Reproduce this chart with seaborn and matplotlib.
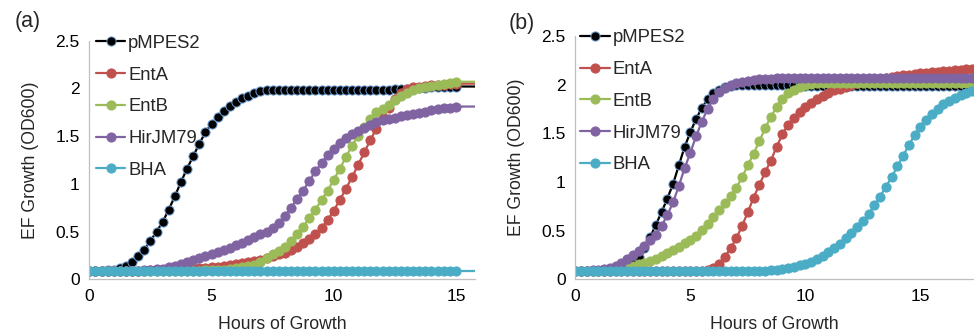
import numpy as np
import pandas as pd
import matplotlib
matplotlib.use("Agg")
import matplotlib.pyplot as plt
import seaborn as sns

# ---------------- data ----------------
series_names = ["pMPES2", "EntA", "EntB", "HirJM79", "BHA"]
series_colors = ["#000000", "#C0504D", "#9BBB59", "#8064A2", "#4BACC6"]

# Panel (a): readings every 0.25 h from 0 to 16 h (markers shown to 15 h)
a_pMPES2 = [0.09, 0.09, 0.09, 0.095,
            0.10, 0.115, 0.14, 0.185,
            0.24, 0.31, 0.40, 0.50,
            0.60, 0.73, 0.87, 1.02,
            1.16, 1.29, 1.42, 1.54,
            1.63, 1.70, 1.76, 1.82,
            1.86, 1.90, 1.92, 1.95,
            1.97, 1.98, 1.98, 1.98,
            1.98, 1.98, 1.98, 1.98,
            1.98, 1.98, 1.98, 1.98,
            1.98, 1.98, 1.98, 1.98,
            1.98, 1.98, 1.98, 1.98,
            1.98, 1.98, 1.99, 1.99,
            1.99, 2.00, 2.00, 2.00,
            2.01, 2.01, 2.01, 2.02,
            2.02, 2.02, 2.02, 2.02,
            2.02]
a_EntA = [0.09, 0.09, 0.09, 0.09,
          0.09, 0.09, 0.09, 0.09,
          0.09, 0.09, 0.095, 0.095,
          0.10, 0.10, 0.10, 0.105,
          0.105, 0.11, 0.115, 0.12,
          0.125, 0.13, 0.14, 0.15,
          0.16, 0.17, 0.18, 0.19,
          0.20, 0.22, 0.24, 0.26,
          0.28, 0.31, 0.34, 0.38,
          0.42, 0.47, 0.54, 0.62,
          0.72, 0.83, 0.95, 1.07,
          1.20, 1.33, 1.46, 1.58,
          1.70, 1.80, 1.89, 1.95,
          1.99, 2.01, 2.02, 2.03,
          2.04, 2.04, 2.04, 2.05,
          2.05, 2.05, 2.05, 2.05,
          2.05]
a_EntB = [0.09, 0.09, 0.09, 0.09,
          0.09, 0.09, 0.09, 0.09,
          0.09, 0.09, 0.09, 0.09,
          0.09, 0.09, 0.09, 0.09,
          0.09, 0.09, 0.09, 0.095,
          0.095, 0.10, 0.10, 0.11,
          0.115, 0.125, 0.135, 0.15,
          0.18, 0.22, 0.26, 0.30,
          0.34, 0.40, 0.47, 0.55,
          0.64, 0.73, 0.83, 0.93,
          1.04, 1.16, 1.28, 1.40,
          1.50, 1.60, 1.68, 1.75,
          1.78, 1.83, 1.88, 1.92,
          1.95, 1.98, 2.00, 2.02,
          2.03, 2.04, 2.05, 2.06,
          2.07, 2.07, 2.07, 2.07,
          2.07]
a_HirJM79 = [0.09, 0.09, 0.09, 0.09,
             0.09, 0.09, 0.09, 0.09,
             0.09, 0.095, 0.10, 0.105,
             0.11, 0.125, 0.14, 0.16,
             0.18, 0.20, 0.22, 0.24,
             0.26, 0.29, 0.31, 0.33,
             0.36, 0.38, 0.41, 0.44,
             0.47, 0.50, 0.54, 0.59,
             0.66, 0.75, 0.84, 0.93,
             1.03, 1.13, 1.22, 1.30,
             1.37, 1.43, 1.48, 1.52,
             1.55, 1.59, 1.62, 1.645,
             1.665, 1.68, 1.695, 1.71,
             1.72, 1.73, 1.74, 1.75,
             1.77, 1.78, 1.79, 1.80,
             1.81, 1.81, 1.81, 1.81,
             1.81]
a_BHA = [0.09, 0.09, 0.09, 0.09,
         0.09, 0.09, 0.09, 0.09,
         0.09, 0.09, 0.09, 0.09,
         0.09, 0.09, 0.09, 0.09,
         0.09, 0.09, 0.09, 0.09,
         0.09, 0.09, 0.09, 0.09,
         0.09, 0.09, 0.09, 0.09,
         0.09, 0.09, 0.09, 0.09,
         0.09, 0.09, 0.09, 0.09,
         0.09, 0.09, 0.09, 0.09,
         0.09, 0.09, 0.09, 0.09,
         0.09, 0.09, 0.09, 0.09,
         0.09, 0.09, 0.09, 0.09,
         0.09, 0.09, 0.09, 0.09,
         0.09, 0.09, 0.09, 0.09,
         0.09, 0.09, 0.09, 0.09,
         0.09]

# Panel (b): readings every 0.25 h from 0 to 17.5 h
b_pMPES2 = [0.09, 0.09, 0.09, 0.09,
            0.09, 0.09, 0.09, 0.095,
            0.10, 0.12, 0.16, 0.23,
            0.32, 0.43, 0.56, 0.69,
            0.83, 0.98, 1.17, 1.36,
            1.51, 1.65, 1.76, 1.85,
            1.91, 1.95, 1.98, 1.99,
            2.00, 2.00, 2.00, 2.00,
            2.00, 2.00, 2.00, 2.00,
            2.00, 2.00, 2.00, 2.00,
            1.99, 1.99, 1.99, 1.99,
            1.99, 1.99, 1.99, 1.99,
            1.99, 1.99, 1.99, 1.99,
            1.99, 1.99, 1.99, 1.99,
            1.99, 1.99, 1.99, 1.99,
            1.99, 1.99, 1.99, 1.99,
            1.99, 1.99, 1.99, 1.99,
            1.99, 1.99, 1.99]
b_EntA = [0.09, 0.09, 0.09, 0.09,
          0.09, 0.09, 0.09, 0.09,
          0.09, 0.09, 0.09, 0.09,
          0.09, 0.09, 0.09, 0.09,
          0.09, 0.09, 0.09, 0.09,
          0.09, 0.09, 0.09, 0.10,
          0.12, 0.16, 0.23, 0.32,
          0.42, 0.55, 0.69, 0.84,
          0.97, 1.10, 1.22, 1.36,
          1.49, 1.59, 1.66, 1.72,
          1.77, 1.81, 1.85, 1.88,
          1.91, 1.94, 1.96, 1.98,
          2.00, 2.02, 2.03, 2.04,
          2.05, 2.06, 2.07, 2.08,
          2.09, 2.10, 2.10, 2.11,
          2.12, 2.12, 2.13, 2.13,
          2.14, 2.14, 2.15, 2.15,
          2.16, 2.16, 2.16]
b_EntB = [0.09, 0.09, 0.09, 0.09,
          0.09, 0.095, 0.10, 0.11,
          0.12, 0.13, 0.14, 0.155,
          0.17, 0.19, 0.21, 0.24,
          0.27, 0.30, 0.33, 0.37,
          0.40, 0.45, 0.51, 0.57,
          0.64, 0.71, 0.78, 0.86,
          0.94, 1.05, 1.17, 1.29,
          1.42, 1.55, 1.67, 1.77,
          1.85, 1.91, 1.95, 1.98,
          2.00, 2.01, 2.02, 2.02,
          2.02, 2.02, 2.02, 2.02,
          2.02, 2.02, 2.02, 2.02,
          2.02, 2.02, 2.02, 2.02,
          2.02, 2.02, 2.02, 2.02,
          2.02, 2.02, 2.02, 2.02,
          2.02, 2.02, 2.02, 2.02,
          2.02, 2.02, 2.02]
b_HirJM79 = [0.09, 0.09, 0.09, 0.095,
             0.10, 0.11, 0.12, 0.14,
             0.17, 0.21, 0.25, 0.29,
             0.34, 0.40, 0.46, 0.55,
             0.66, 0.79, 0.96, 1.14,
             1.30, 1.47, 1.62, 1.75,
             1.85, 1.92, 1.97, 2.00,
             2.02, 2.03, 2.04, 2.05,
             2.06, 2.06, 2.06, 2.07,
             2.07, 2.07, 2.07, 2.07,
             2.07, 2.07, 2.07, 2.07,
             2.07, 2.07, 2.07, 2.07,
             2.07, 2.07, 2.07, 2.07,
             2.07, 2.07, 2.07, 2.07,
             2.07, 2.07, 2.07, 2.07,
             2.07, 2.07, 2.07, 2.07,
             2.07, 2.07, 2.07, 2.07,
             2.07, 2.07, 2.07]
b_BHA = [0.09, 0.09, 0.09, 0.09,
         0.09, 0.09, 0.09, 0.09,
         0.09, 0.09, 0.09, 0.09,
         0.09, 0.09, 0.09, 0.09,
         0.09, 0.09, 0.09, 0.09,
         0.09, 0.09, 0.09, 0.09,
         0.09, 0.09, 0.09, 0.09,
         0.09, 0.09, 0.09, 0.09,
         0.09, 0.09, 0.095, 0.10,
         0.11, 0.12, 0.13, 0.145,
         0.16, 0.18, 0.21, 0.24,
         0.28, 0.32, 0.36, 0.42,
         0.48, 0.54, 0.60, 0.67,
         0.76, 0.85, 0.95, 1.05,
         1.16, 1.27, 1.38, 1.48,
         1.57, 1.64, 1.70, 1.75,
         1.80, 1.83, 1.86, 1.89,
         1.91, 1.93, 1.95]

step_hours = 0.25
x_ticks = [0, 5, 10, 15]
y_ticks = [0, 0.5, 1, 1.5, 2, 2.5]
y_tick_labels = ["0", "0.5", "1", "1.5", "2", "2.5"]
x_label = "Hours of Growth"
y_label = "EF Growth (OD600)"


def long_frame(series_list):
    n = len(series_list[0])
    hours = np.arange(n) * step_hours
    parts = []
    for name, vals in zip(series_names, series_list):
        parts.append(pd.DataFrame({"Hours": hours, "OD": vals, "Strain": name}))
    return pd.concat(parts, ignore_index=True)


df_a = long_frame([a_pMPES2, a_EntA, a_EntB, a_HirJM79, a_BHA])
df_b = long_frame([b_pMPES2, b_EntA, b_EntB, b_HirJM79, b_BHA])

# ---------------- style ----------------
sns.set_style("white")
plt.rcParams["font.family"] = ["Liberation Sans", "DejaVu Sans"]

W, H = 974, 335
fig = plt.figure(figsize=(W / 100, H / 100), dpi=100)


def px_axes(left, right, bottom, top):
    return fig.add_axes([left / W, 1 - bottom / H, (right - left) / W, (bottom - top) / H])


ax_a = px_axes(89.3, 475, 279.3, 40.7)
ax_b = px_axes(575.3, 974, 279.3, 36.0)


def draw(ax, df, xmax, mark_n, leg_xy):
    for name, col in zip(series_names, series_colors):
        sub = df[df["Strain"] == name]
        mec = "#6A9BD1" if name == "pMPES2" else col
        sns.lineplot(data=sub, x="Hours", y="OD", ax=ax, color=col, lw=1.6,
                     marker="o", markersize=6.6, markeredgecolor=mec,
                     markeredgewidth=0.7, markevery=list(range(min(mark_n, len(sub)))),
                     label=name, estimator=None, clip_on=True)
    ax.set_xlim(0, xmax)
    ax.set_ylim(0, 2.5)
    ax.set_xticks(x_ticks)
    ax.set_yticks(y_ticks)
    ax.set_yticklabels(y_tick_labels)
    ax.tick_params(axis="both", length=0, labelsize=12.5, colors="#000000")
    ax.tick_params(axis="x", pad=7)
    ax.tick_params(axis="y", pad=7)
    for s in ["top", "right"]:
        ax.spines[s].set_visible(False)
    for s in ["left", "bottom"]:
        ax.spines[s].set_color("#BFBFBF")
        ax.spines[s].set_linewidth(0.9)
    ax.set_xlabel(x_label, fontsize=12.7, labelpad=8.5)
    ax.set_ylabel(y_label, fontsize=12.7, labelpad=12)
    ax.grid(False)
    leg = ax.legend(loc="upper left", bbox_to_anchor=leg_xy, frameon=False,
                    fontsize=13.3, handlelength=1.6, handletextpad=0.15,
                    labelspacing=0.8, borderpad=0, borderaxespad=0)
    return leg


draw(ax_a, df_a, 15.78, 61, (0.017, 1.025))
draw(ax_b, df_b, 17.33, 200, (0.012, 1.028))

fig.text(28 / W, 1 - 22 / H, "(a)", fontsize=15.5, ha="center", va="center")
fig.text(522 / W, 1 - 23 / H, "(b)", fontsize=15.5, ha="center", va="center")

fig.savefig("out.png", dpi=100)
